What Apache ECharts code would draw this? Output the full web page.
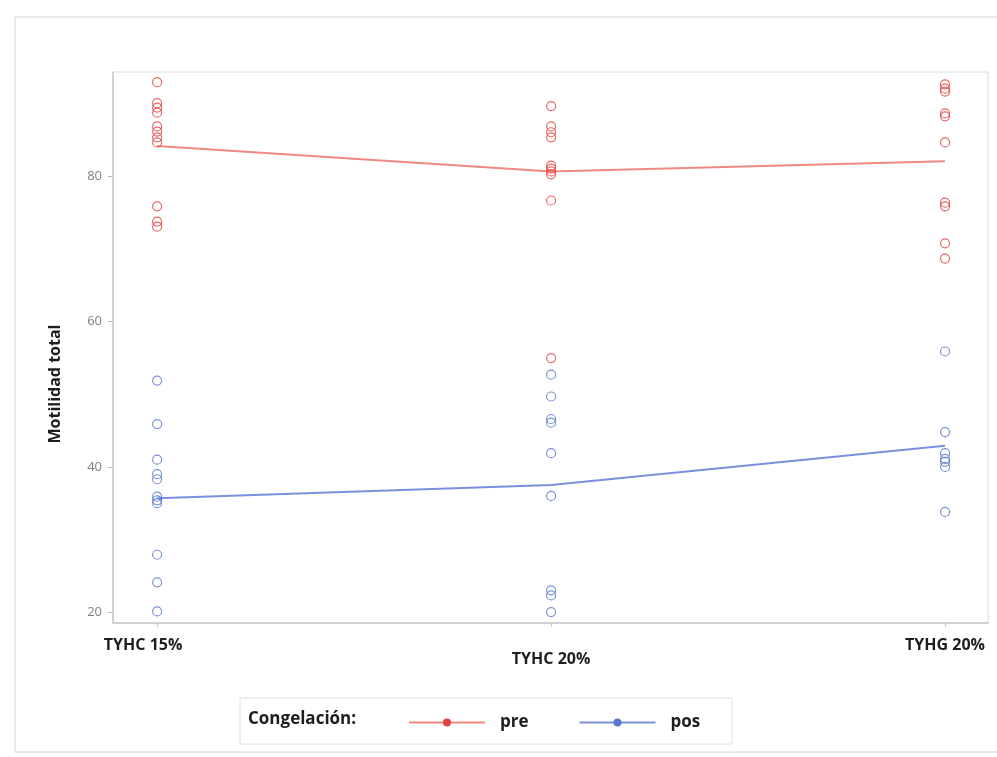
<!DOCTYPE html>
<html>
<head>
<meta charset="utf-8">
<script src="https://cdn.jsdelivr.net/npm/echarts@6/dist/echarts.min.js"></script>
<style>
  html, body { margin: 0; padding: 0; background: #ffffff; }
  #chart { width: 997px; height: 757px; }
</style>
</head>
<body>
<div id="chart"></div>
<script>
// Treatments along the x axis (positions 0, 1, 2)
const categories = ['TYHC 15%', 'TYHC 20%', 'TYHG 20%'];

// Individual total motility readings, before freezing ("pre")
const preTYHC15 = [93.0, 90.1, 89.5, 88.8, 86.9, 86.2, 85.4, 84.7, 75.9, 73.8, 73.1];
const preTYHC20 = [89.7, 86.9, 86.1, 85.4, 81.5, 81.1, 80.7, 80.3, 76.7, 55.0];
const preTYHG20 = [92.7, 92.1, 91.7, 88.7, 88.3, 84.7, 76.4, 75.9, 70.8, 68.7];

// Individual total motility readings, after freezing ("pos")
const posTYHC15 = [51.9, 45.9, 41.0, 39.0, 38.3, 35.9, 35.4, 35.0, 27.9, 24.1, 20.1];
const posTYHC20 = [52.7, 49.7, 46.6, 46.1, 41.9, 36.0, 23.0, 22.3, 20.0];
const posTYHG20 = [55.9, 44.8, 41.9, 41.1, 40.7, 40.0, 33.8];

// Group means joined by the lines
const preMeans = [84.2, 80.7, 82.1];
const posMeans = [35.7, 37.5, 42.9];

// Y axis tick labels
const yTicks = [20, 40, 60, 80];

const PRE_COLOR = '#e0423e';
const PRE_LINE = '#ef8a80';
const POS_COLOR = '#5a78cc';
const POS_LINE = '#7b90dc';
const FONT = '"Open Sans", "Liberation Sans", sans-serif';

function pointsAt(groups) {
  const out = [];
  groups.forEach((vals, i) => vals.forEach(v => out.push([i, v])));
  return out;
}

const chart = echarts.init(document.getElementById('chart'));

chart.setOption({
  backgroundColor: '#ffffff',
  animation: false,
  textStyle: { fontFamily: FONT },
  grid: { left: 113, top: 72, right: 9, bottom: 134, show: true, borderColor: '#dcdcdc', borderWidth: 1 },
  xAxis: {
    type: 'value',
    min: -0.112,
    max: 2.109,
    splitLine: { show: false },
    axisLine: { show: true, onZero: false, lineStyle: { color: '#c8c8c8', width: 1.5 } },
    axisTick: { show: true, customValues: [0, 1, 2], length: 4, lineStyle: { color: '#c8c8c8' } },
    axisLabel: {
      customValues: [0, 1, 2],
      margin: 14,
      formatter: v => {
        const i = Math.round(v);
        const key = i === 0 ? 'a' : (i === 1 ? 'b' : 'c');
        return '{' + key + '|' + categories[i] + '}';
      },
      rich: {
        a: { fontSize: 16, fontWeight: 'bold', color: '#1e1e1e', padding: [0, 28, 0, 0] },
        b: { fontSize: 16, fontWeight: 'bold', color: '#1e1e1e', padding: [14, 0, 0, 0] },
        c: { fontSize: 16, fontWeight: 'bold', color: '#1e1e1e' }
      }
    }
  },
  yAxis: {
    type: 'value',
    min: 18.5,
    max: 94.4,
    splitLine: { show: false },
    axisLine: { show: true, onZero: false, lineStyle: { color: '#c8c8c8', width: 1.5 } },
    axisTick: { show: true, customValues: yTicks, length: 5, lineStyle: { color: '#b8b8b8' } },
    axisLabel: { customValues: yTicks, fontSize: 13, color: '#8a7c86', margin: 11 }
  },
  legend: {
    data: ['pre', 'pos'],
    left: 403,
    top: 709,
    itemWidth: 76,
    itemHeight: 10,
    itemGap: 50,
    textStyle: { fontSize: 17, fontWeight: 'bold', color: '#1e1e1e', padding: [0, 0, 0, 10] }
  },
  graphic: [
    { type: 'rect', shape: { x: 15, y: 17, width: 990, height: 735 }, style: { fill: 'none', stroke: '#e4e4e4', lineWidth: 1.5 }, silent: true, z: -1 },
    { type: 'rect', shape: { x: 240, y: 698, width: 492, height: 46 }, style: { fill: 'none', stroke: '#e0e0e0', lineWidth: 1 }, silent: true },
    { type: 'text', left: 248, top: 711, style: { text: 'Congelación:', fontSize: 17, fontWeight: 'bold', fill: '#1e1e1e', fontFamily: FONT } },
    { type: 'text', x: 55, y: 384, rotation: Math.PI / 2, style: { text: 'Motilidad total', fontSize: 16, fontWeight: 'bold', fill: '#1e1e1e', align: 'center', verticalAlign: 'middle', fontFamily: FONT } }
  ],
  series: [
    {
      name: 'pre-points', type: 'scatter', symbol: 'circle', symbolSize: 9,
      itemStyle: { color: 'rgba(255,255,255,0)', borderColor: PRE_COLOR, borderWidth: 1.2 },
      data: pointsAt([preTYHC15, preTYHC20, preTYHG20]), z: 3
    },
    {
      name: 'pos-points', type: 'scatter', symbol: 'circle', symbolSize: 9,
      itemStyle: { color: 'rgba(255,255,255,0)', borderColor: POS_COLOR, borderWidth: 1.2 },
      data: pointsAt([posTYHC15, posTYHC20, posTYHG20]), z: 3
    },
    {
      name: 'pre', type: 'line', symbol: 'circle', symbolSize: 8, showSymbol: false,
      itemStyle: { color: PRE_COLOR },
      lineStyle: { color: PRE_LINE, width: 2 },
      data: preMeans.map((v, i) => [i, v]), z: 2
    },
    {
      name: 'pos', type: 'line', symbol: 'circle', symbolSize: 8, showSymbol: false,
      itemStyle: { color: POS_COLOR },
      lineStyle: { color: POS_LINE, width: 2 },
      data: posMeans.map((v, i) => [i, v]), z: 2
    }
  ]
});
</script>
</body>
</html>
